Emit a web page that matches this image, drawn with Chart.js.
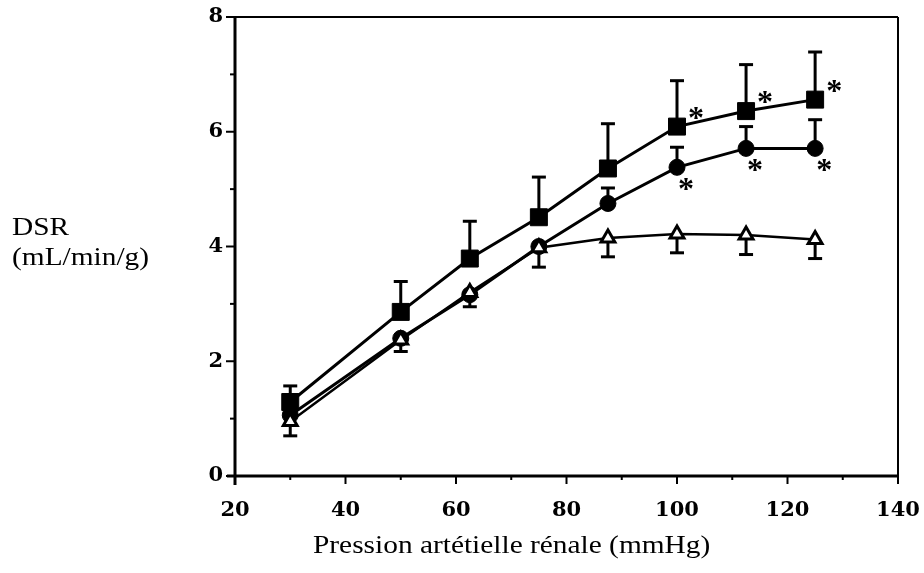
<!DOCTYPE html>
<html>
<head>
<meta charset="utf-8">
<script src="https://cdn.jsdelivr.net/npm/chart.js@4.4.1/dist/chart.umd.min.js"></script>
<style>
  html,body{margin:0;padding:0;background:#fff;}
  #wrap{position:relative;width:924px;height:573px;}
  canvas{position:absolute;left:0;top:0;}
  .ttl{position:absolute;font-family:"Liberation Serif","Times New Roman",serif;font-size:26px;line-height:30px;color:#000;white-space:nowrap;transform-origin:0 0;transform:scaleX(1.13);}
</style>
</head>
<body>
<div id="wrap">
  <canvas id="c" width="924" height="573"></canvas>
  <div class="ttl" id="ytitle" style="left:12px;top:212px;">DSR<br>(mL/min/g)</div>
  <div class="ttl" id="xtitle" style="left:313px;top:530px;">Pression artétielle rénale (mmHg)</div>
</div>
<script>
// ---- data ----
const pressures = [30, 50, 62.5, 75, 87.5, 100, 112.5, 125];
const squareMean  = [1.29, 2.86, 3.79, 4.51, 5.36, 6.09, 6.36, 6.56];
const squareUpper = [1.57, 3.39, 4.44, 5.21, 6.14, 6.89, 7.17, 7.39];
const circleMean  = [1.06, 2.40, 3.16, 4.00, 4.75, 5.38, 5.71, 5.71];
const circleUpper = [null, null, null, null, 5.02, 5.73, 6.09, 6.21];
const triMean     = [0.95, 2.37, 3.20, 3.98, 4.15, 4.22, 4.20, 4.12];
const triLower    = [0.70, 2.17, 2.95, 3.64, 3.82, 3.89, 3.86, 3.79];
const squareStar  = [false, false, false, false, false, true, true, true];
const circleStar  = [false, false, false, false, false, true, true, true];
const xTickLabels = [20, 40, 60, 80, 100, 120, 140];
const yTickLabels = [0, 2, 4, 6, 8];

const pts = (ys) => pressures.map((x, i) => ({x: x, y: ys[i]}));
const tickFont = { family: '"DejaVu Serif", serif', weight: 'bold', size: 21 };

const errorBars = {
  id: 'errorBars',
  beforeDatasetsDraw(chart) {
    const ctx = chart.ctx, xs = chart.scales.x, ys = chart.scales.y;
    ctx.save();
    ctx.strokeStyle = '#000';
    ctx.lineCap = 'butt';
    const bar = (x, y0, y1) => {
      const px = xs.getPixelForValue(x);
      const p0 = ys.getPixelForValue(y0), p1 = ys.getPixelForValue(y1);
      ctx.lineWidth = 3;
      ctx.beginPath(); ctx.moveTo(px, p0); ctx.lineTo(px, p1); ctx.stroke();
      ctx.beginPath(); ctx.moveTo(px - 7, p1); ctx.lineTo(px + 7, p1); ctx.stroke();
    };
    pressures.forEach((x, i) => {
      if (squareUpper[i] != null) bar(x, squareMean[i], squareUpper[i]);
      if (circleUpper[i] != null) bar(x, circleMean[i], circleUpper[i]);
      if (triLower[i] != null) bar(x, triMean[i], triLower[i]);
    });
    ctx.restore();
  },
  afterDatasetsDraw(chart) {
    const ctx = chart.ctx, xs = chart.scales.x, ys = chart.scales.y;
    ctx.save();
    ctx.fillStyle = '#000';
    ctx.font = 'bold 32px "Liberation Serif", serif';
    ctx.textAlign = 'center';
    ctx.textBaseline = 'alphabetic';
    pressures.forEach((x, i) => {
      const px = xs.getPixelForValue(x);
      if (squareStar[i]) ctx.fillText('*', px + 19, ys.getPixelForValue(squareMean[i]) - 15 + 16);
      if (circleStar[i]) ctx.fillText('*', px + 9, ys.getPixelForValue(circleMean[i]) + 16 + 16);
    });
    ctx.restore();
  },
  afterDraw(chart) {
    const ctx = chart.ctx, a = chart.chartArea, xs = chart.scales.x, ys = chart.scales.y;
    ctx.save();
    ctx.strokeStyle = '#000';
    // frame
    ctx.lineWidth = 2;
    ctx.beginPath(); ctx.moveTo(a.left - 4, a.top); ctx.lineTo(a.right, a.top); ctx.stroke();
    ctx.beginPath(); ctx.moveTo(a.right, a.top); ctx.lineTo(a.right, a.bottom); ctx.stroke();
    ctx.lineWidth = 3;
    ctx.beginPath(); ctx.moveTo(a.left, a.top); ctx.lineTo(a.left, a.bottom + 9); ctx.stroke();
    ctx.beginPath(); ctx.moveTo(a.left - 8, a.bottom); ctx.lineTo(a.right + 1, a.bottom); ctx.stroke();
    // ticks
    ctx.lineWidth = 2;
    for (let v = 20; v <= 140; v += 10) {
      const px = xs.getPixelForValue(v);
      const len = (v % 20 === 0) ? 8 : 4;
      ctx.beginPath(); ctx.moveTo(px, a.bottom); ctx.lineTo(px, a.bottom + len); ctx.stroke();
    }
    for (let v = 0; v <= 8; v += 1) {
      const py = ys.getPixelForValue(v);
      const len = (v % 2 === 0) ? 9 : 5;
      ctx.beginPath(); ctx.moveTo(a.left, py); ctx.lineTo(a.left - len, py); ctx.stroke();
    }
    ctx.restore();
  }
};

new Chart(document.getElementById('c'), {
  type: 'scatter',
  data: {
    datasets: [
      {
        label: 'circles', data: pts(circleMean), showLine: true,
        borderColor: '#000', borderWidth: 3, backgroundColor: '#000',
        pointStyle: 'circle', pointRadius: 8, pointBorderWidth: 1,
        pointBackgroundColor: '#000', pointBorderColor: '#000', order: 3
      },
      {
        label: 'squares', data: pts(squareMean), showLine: true,
        borderColor: '#000', borderWidth: 3, backgroundColor: '#000',
        pointStyle: 'rect', pointRadius: 12, pointBorderWidth: 1,
        pointBackgroundColor: '#000', pointBorderColor: '#000', order: 2
      },
      {
        label: 'triangles', data: pts(triMean), showLine: true,
        borderColor: '#000', borderWidth: 2.5, backgroundColor: '#fff',
        pointStyle: 'triangle', pointRadius: 8, pointBorderWidth: 3,
        pointBackgroundColor: '#fff', pointBorderColor: '#000', order: 1
      }
    ]
  },
  options: {
    responsive: false,
    animation: false,
    events: [],
    layout: { padding: { left: 0, top: 17, right: 26, bottom: 0 } },
    plugins: { legend: { display: false }, tooltip: { enabled: false } },
    scales: {
      x: {
        type: 'linear', min: 20, max: 140,
        grid: { display: false }, border: { display: false },
        afterBuildTicks: (s) => { s.ticks = xTickLabels.map(v => ({value: v})); },
        afterFit: (s) => { s.height = 97; s.paddingLeft = 0; s.paddingRight = 0; },
        ticks: { color: '#000', padding: 14, maxRotation: 0, font: tickFont }
      },
      y: {
        type: 'linear', min: 0, max: 8,
        grid: { display: false }, border: { display: false },
        afterBuildTicks: (s) => { s.ticks = yTickLabels.map(v => ({value: v})); },
        afterFit: (s) => { s.width = 235; s.paddingTop = 0; s.paddingBottom = 0; },
        ticks: { color: '#000', padding: 4, font: tickFont }
      }
    }
  },
  plugins: [errorBars]
});
</script>
</body>
</html>
